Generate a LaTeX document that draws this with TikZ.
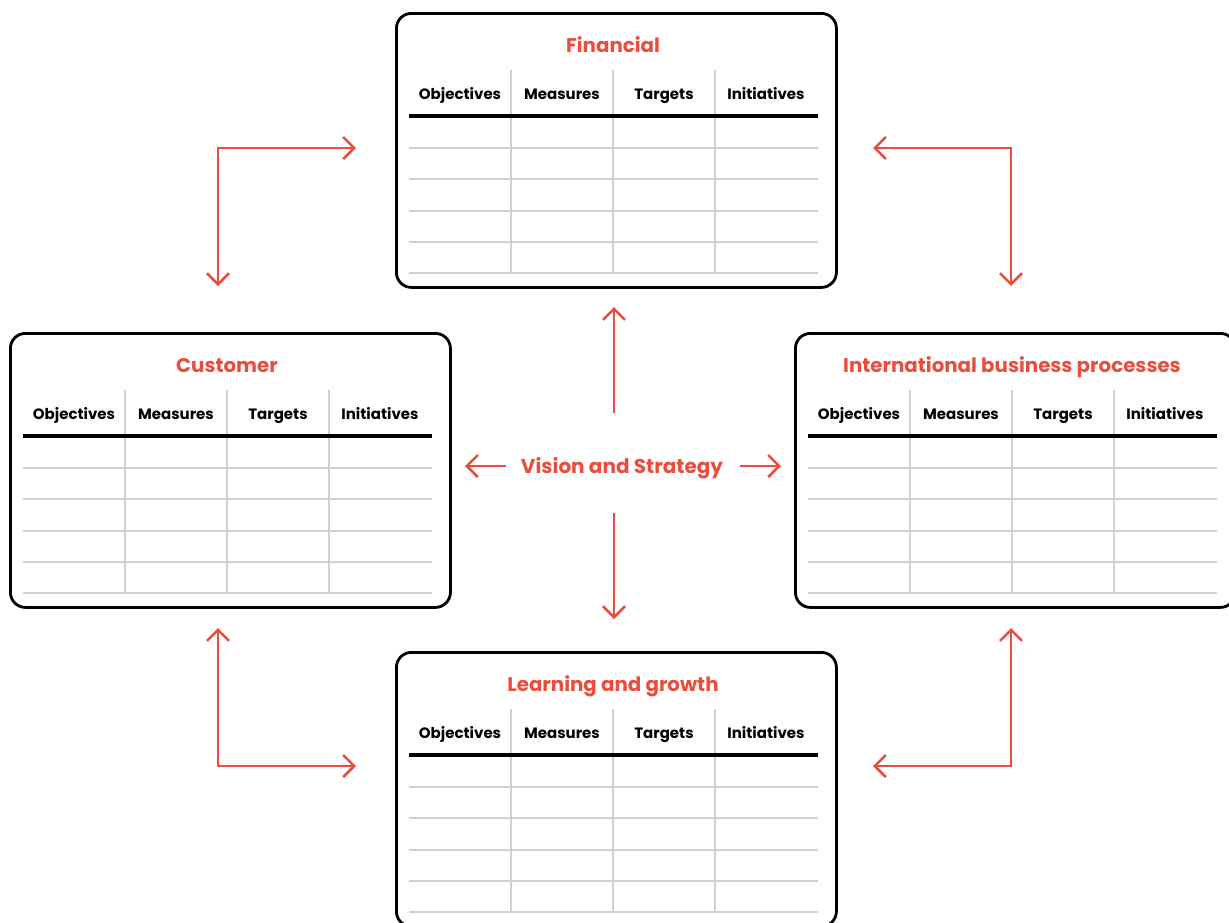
\documentclass[tikz,border=0pt]{standalone}
\usepackage{fontspec}
\setmainfont{Poppins}
\usetikzlibrary{arrows.meta}
\definecolor{bscred}{HTML}{E94E3D}
\definecolor{gridgray}{HTML}{CFCFCF}
\tikzset{
  panel/.style={draw=black, line width=2.8pt, rounded corners=15pt, minimum width=440pt, minimum height=274pt, inner sep=0pt, anchor=north west},
  paneltitle/.style={text=bscred, font=\bfseries\fontsize{19.8}{22}\selectfont, inner sep=0pt, anchor=base},
  colhead/.style={font=\bfseries\fontsize{15}{18}\selectfont, inner sep=0pt, anchor=base},
  headrule/.style={line width=3.5pt, black},
  gridline/.style={line width=1.8pt, gridgray},
  tip/.tip={Straight Barb[length=11pt,width=22pt]},
  link/.style={bscred, line width=2.6pt, tip-tip},
  onelink/.style={bscred, line width=2.6pt, -tip},
}
\newcommand\bscpanel[4]{%
  \begin{scope}[shift={(#2,#3)}]
    \node[panel] (#1) at (0,0) {};
    \node[paneltitle] (#1-title) at (218,40) {#4};
    \foreach \cx/\lab [count=\i] in {65/Objectives,167/Measures,269/Targets,371/Initiatives}
      \node[colhead] (#1-h\i) at (\cx,87) {\lab};
    \foreach \ry in {136,167,199,230,261}
      \draw[gridline] (14,\ry) -- (423,\ry);
    \foreach \dx in {116,218,320}
      \draw[gridline] (\dx,58) -- (\dx,261);
    \draw[headrule] (14,104) -- (423,104);
  \end{scope}}
\begin{document}
\begin{tikzpicture}[x=1pt,y=-1pt]
  \useasboundingbox (0,0) rectangle (1229,922);
  \clip (0,0) rectangle (1229,922);
  \bscpanel{fin}{395}{12}{Financial}
  \bscpanel{cus}{9}{332}{Customer}
  \bscpanel{ibp}{794}{332}{International business processes}
  \bscpanel{lrn}{395}{651}{Learning and growth}
  \node[text=bscred, font=\bfseries\fontsize{20}{22}\selectfont, inner sep=0pt, anchor=base] (vision) at (622,473) {Vision and Strategy};
  % elbow links
  \coordinate (tlA) at (218,286); \coordinate (tlC) at (218,148); \coordinate (tlB) at (356,148);
  \coordinate (trA) at (873,148); \coordinate (trC) at (1011,148); \coordinate (trB) at (1011,286);
  \coordinate (blA) at (218,628); \coordinate (blC) at (218,766); \coordinate (blB) at (356,766);
  \coordinate (brA) at (1011,628); \coordinate (brC) at (1011,766); \coordinate (brB) at (873,766);
  \draw[link] (tlA) -- (tlC) -- (tlB);
  \draw[link] (trA) -- (trC) -- (trB);
  \draw[link] (blA) -- (blC) -- (blB);
  \draw[link] (brA) -- (brC) -- (brB);
  % vision links
  \coordinate (vU0) at (614,413); \coordinate (vU1) at (614,307);
  \coordinate (vD0) at (614,513); \coordinate (vD1) at (614,619);
  \coordinate (vL0) at (506,466); \coordinate (vL1) at (465,466);
  \coordinate (vR0) at (740,466); \coordinate (vR1) at (781,466);
  \draw[onelink] (vU0) -- (vU1);
  \draw[onelink] (vD0) -- (vD1);
  \draw[onelink] (vL0) -- (vL1);
  \draw[onelink] (vR0) -- (vR1);
\end{tikzpicture}
\end{document}
